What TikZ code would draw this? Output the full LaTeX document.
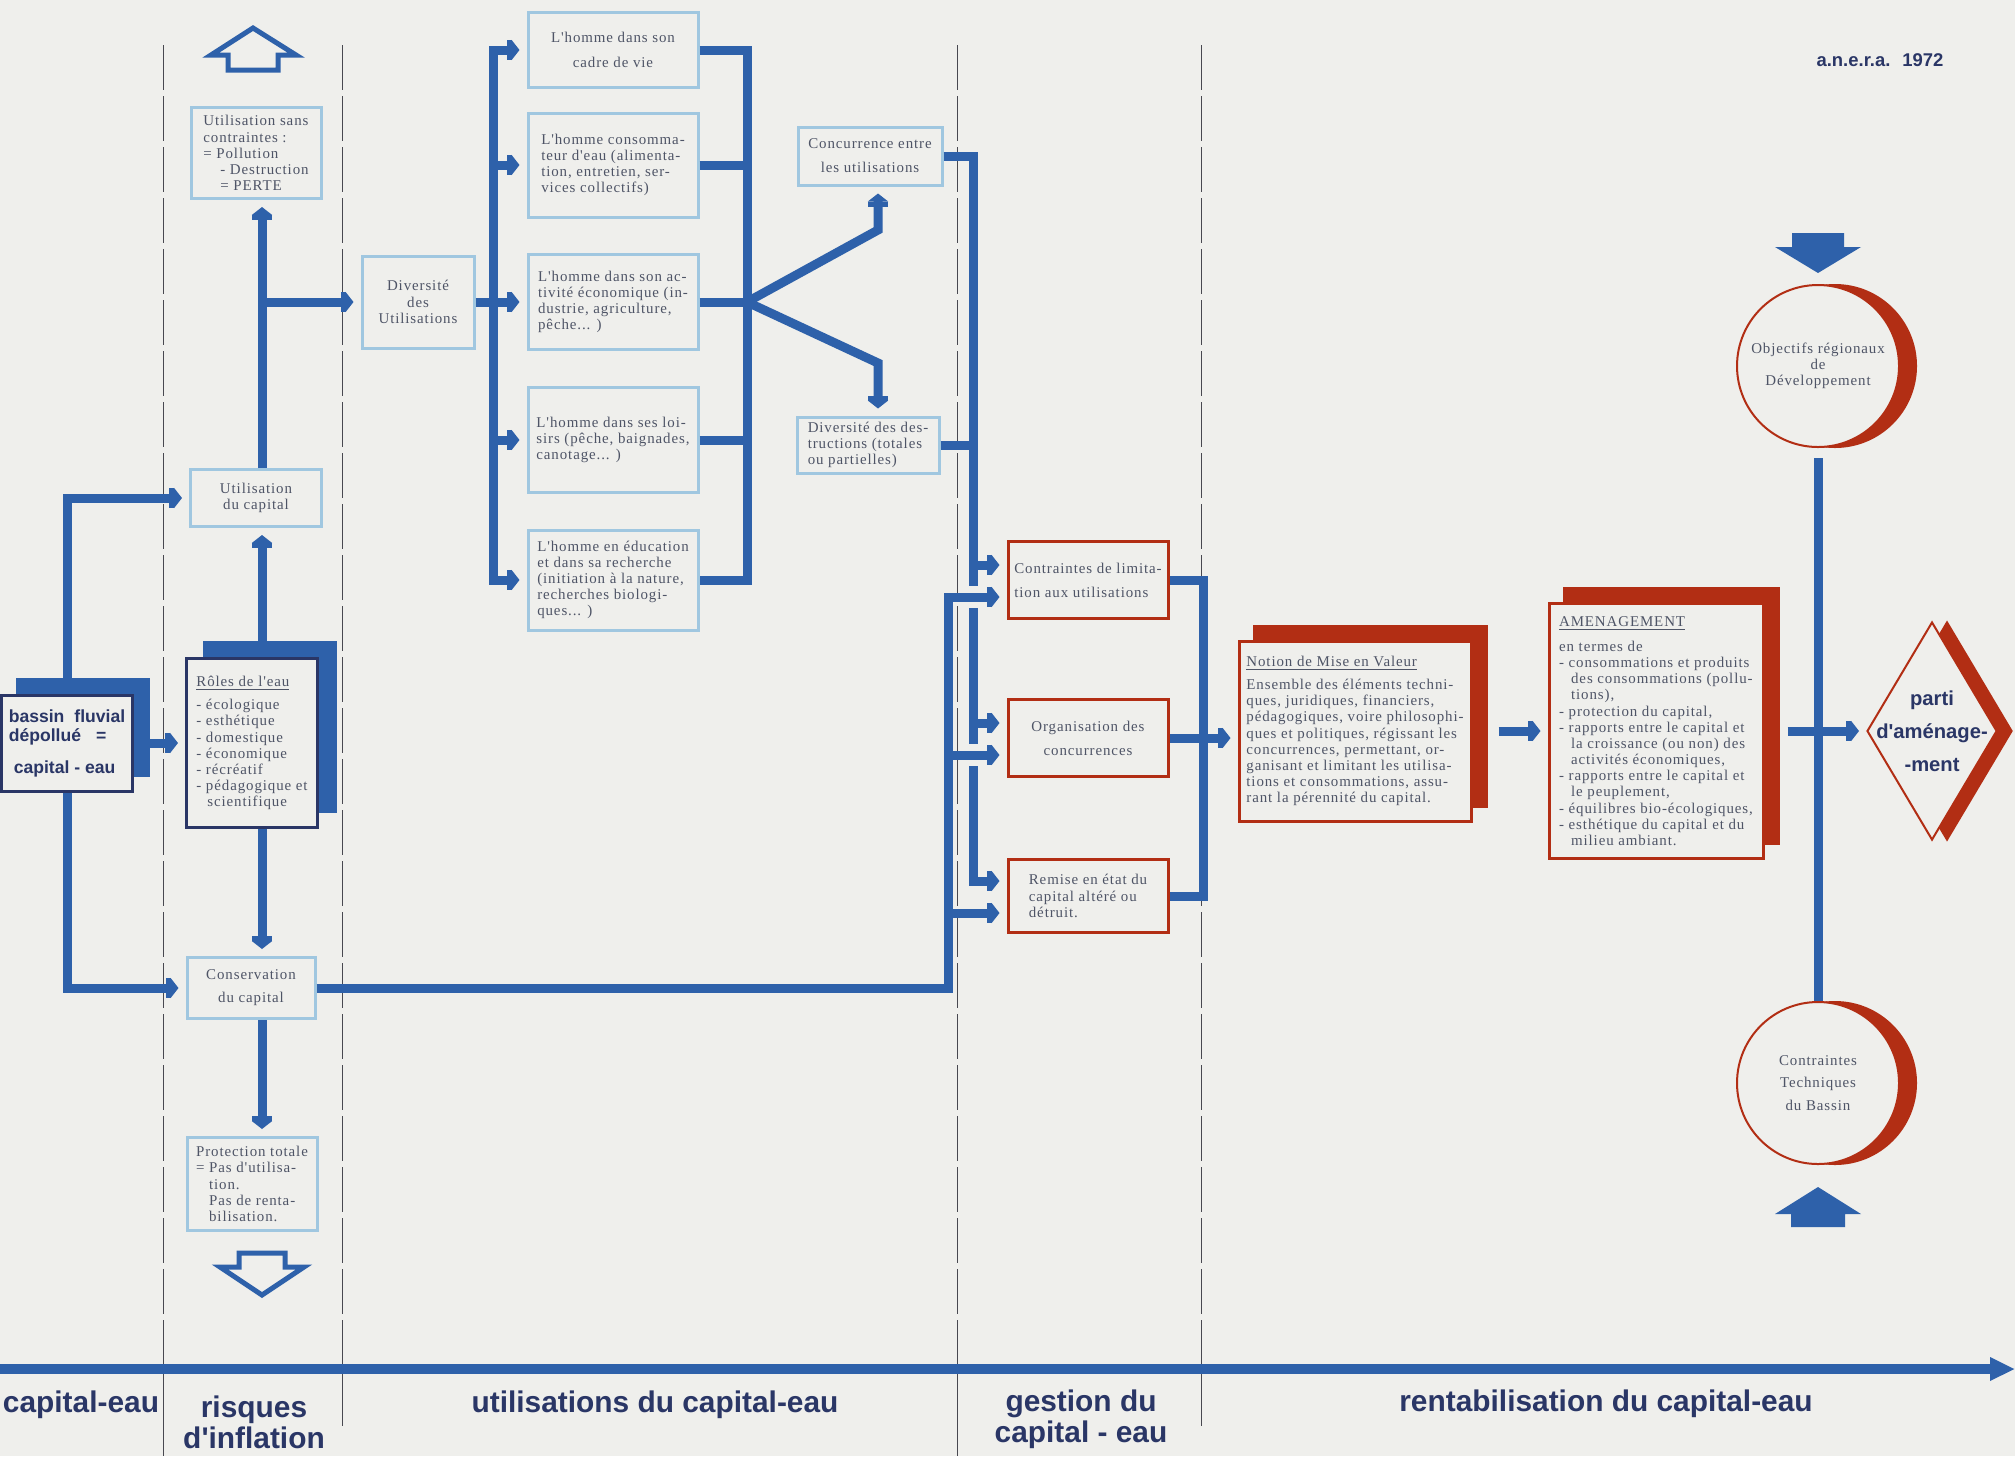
\documentclass[tikz,border=0pt]{standalone}
\usepackage{fontspec}
\setmainfont{Liberation Serif}
\newfontfamily\boxfont[LetterSpace=6]{Liberation Serif}
\newfontfamily\labfont{Liberation Sans}
\usepackage{tikz}
\usetikzlibrary{arrows.meta,positioning,shapes.geometric,shadows}

\definecolor{bgC}{RGB}{239,239,236}
\definecolor{blueC}{RGB}{46,97,170}
\definecolor{navyC}{RGB}{42,54,102}
\definecolor{paleC}{RGB}{160,199,224}
\definecolor{redC}{RGB}{178,46,20}
\definecolor{textC}{RGB}{78,84,102}
\definecolor{rulC}{RGB}{72,72,80}

\begin{document}
\begin{tikzpicture}[x=0.2mm, y=-0.2mm,
  txt/.style={font=\boxfont\fontsize{8.5}{9.2}\selectfont, text=textC},
  blk/.style={txt, draw=#1, line width=0.6mm, fill=bgC, inner sep=0.8mm, align=left},
  blk/.default=paleC,
  bshad/.style={copy shadow={shadow xshift=#1, shadow yshift=3.2mm, fill=blueC, draw=blueC}},
  bshad/.default=3.2mm,
  rshad/.style={copy shadow={shadow xshift=3mm, shadow yshift=3mm, fill=redC, draw=redC}},
  cshad/.style={copy shadow={shadow xshift=3.4mm, shadow yshift=0mm, fill=redC, draw=redC}},
  circ/.style={txt, circle, draw=redC, line width=0.4mm, fill=bgC, minimum size=32.4mm, inner sep=0pt, align=center, cshad},
  dia/.style={diamond, draw=redC, line width=0.4mm, fill=bgC, minimum width=26mm, minimum height=43.6mm, inner sep=0pt,
    copy shadow={shadow xshift=3mm, shadow yshift=0mm, fill=redC, draw=redC}},
  lab/.style={font=\labfont\bfseries\fontsize{17}{17.6}\selectfont, text=navyC, align=center, inner sep=0pt},
  conn/.style={draw=blueC, line width=1.8mm, line join=miter},
  arr/.style={-{Rectangle[length=1mm,width=4mm]Triangle[length=1.6mm,width=4mm]}, shorten >=1.4mm},
  hollow/.style={draw=blueC, line width=1mm, line join=miter},
  colline/.style={draw=rulC, line width=0.5pt, dash pattern=on 9mm off 1.2mm}]

% page
\fill[bgC] (0,0) rectangle (2015,1456);
\useasboundingbox (0,0) rectangle (2015,1456);
\foreach \x in {163,342,957,1201} \draw[colline] (\x,45) -- (\x,1369);
\draw[rulC, line width=0.5pt] (163,1369) -- (163,1456) (342,1369) -- (342,1426)
  (957,1369) -- (957,1456) (1201,1369) -- (1201,1426);
\draw[draw=blueC, line width=2mm, -{Triangle[length=5mm,width=4.4mm]}] (0,1369) -- (2015,1369);

% capital-eau / risques
\node[draw=navyC, line width=0.6mm, fill=bgC, bshad, inner sep=0.8mm, align=left, minimum width=26mm, minimum height=19.2mm,
  font=\labfont\bfseries\fontsize{10}{10.8}\selectfont, text=navyC] (bassin) at (67,743)
  {bassin\hspace{2mm}fluvial\\dépollué\hspace{3mm}=\\[2.6mm]\hspace*{1mm}capital - eau};
\node[blk, minimum width=26mm, minimum height=18.2mm] (sans) at (256,153)
  {Utilisation sans\\contraintes :\\= Pollution\\\hspace*{3.4mm}- Destruction\\\hspace*{3.4mm}= PERTE};
\node[blk, align=center, minimum width=26.2mm, minimum height=11.4mm] (util) at (256,498) {Utilisation\\du capital};
\node[blk=navyC, bshad=3.6mm, minimum width=26.2mm, minimum height=33.8mm] (roles) at (252,743)
  {\underline{Rôles de l'eau}\\[1.4mm]- écologique\\- esthétique\\- domestique\\- économique\\- récréatif\\- pédagogique et\\\hspace*{2.2mm}scientifique};
\node[blk, align=center, minimum width=25.6mm, minimum height=12.2mm] (cons) at (251,988) {Conservation\\[1.4mm]du capital};
\node[blk, minimum width=26mm, minimum height=18.6mm] (prot) at (252,1184)
  {Protection totale\\= Pas d'utilisa-\\\hspace*{2.6mm}tion.\\\hspace*{2.6mm}Pas de renta-\\\hspace*{2.6mm}bilisation.};

% utilisations
\node[blk, align=center, minimum width=22.4mm, minimum height=18.4mm] (dive) at (418,302) {Diversité\\des\\Utilisations};
\node[blk, align=center, minimum width=34mm, minimum height=15mm] (h1) at (613,50) {L'homme dans son\\[1.8mm]cadre de vie};
\node[blk, minimum width=34mm, minimum height=20.8mm] (h2) at (613,165)
  {L'homme consomma-\\teur d'eau (alimenta-\\tion, entretien, ser-\\vices collectifs)};
\node[blk, minimum width=34mm, minimum height=19mm] (h3) at (613,302)
  {L'homme dans son ac-\\tivité économique (in-\\dustrie, agriculture,\\pêche... )};
\node[blk, minimum width=34mm, minimum height=21mm] (h4) at (613,440)
  {L'homme dans ses loi-\\sirs (pêche, baignades,\\canotage... )};
\node[blk, minimum width=34mm, minimum height=20mm] (h5) at (613,580)
  {L'homme en éducation\\et dans sa recherche\\(initiation à la nature,\\recherches biologi-\\ques... )};
\node[blk, align=center, minimum width=28.8mm, minimum height=11.6mm] (conc) at (870,156) {Concurrence entre\\[1.6mm]les utilisations};
\node[blk, minimum width=28.4mm, minimum height=11.2mm] (dest) at (868,445) {Diversité des des-\\tructions (totales\\ou partielles)};

% gestion
\node[blk=redC, minimum width=32mm, minimum height=15.4mm] (contr) at (1088,580) {Contraintes de limita-\\[1.6mm]tion aux utilisations};
\node[blk=redC, align=center, minimum width=32mm, minimum height=15.4mm] (orga) at (1088,738) {Organisation des\\[1.6mm]concurrences};
\node[blk=redC, minimum width=32mm, minimum height=14.6mm] (remise) at (1088,896) {Remise en état du\\capital altéré ou\\détruit.};

% rentabilisation
\node[blk=redC, rshad, minimum width=46.4mm, minimum height=36mm] (notion) at (1355,731)
  {\underline{Notion de Mise en Valeur}\\[1.4mm]Ensemble des éléments techni-\\ques, juridiques, financiers,\\pédagogiques, voire philosophi-\\ques et politiques, régissant les\\concurrences, permettant, or-\\ganisant et limitant les utilisa-\\tions et consommations, assu-\\rant la pérennité du capital.};
\node[blk=redC, rshad, minimum width=42.8mm, minimum height=51mm] (amen) at (1656,731)
  {\underline{AMENAGEMENT}\\[1.8mm]en termes de\\- consommations et produits\\\hspace*{2.4mm}des consommations (pollu-\\\hspace*{2.4mm}tions),\\- protection du capital,\\- rapports entre le capital et\\\hspace*{2.4mm}la croissance (ou non) des\\\hspace*{2.4mm}activités économiques,\\- rapports entre le capital et\\\hspace*{2.4mm}le peuplement,\\- équilibres bio-écologiques,\\- esthétique du capital et du\\\hspace*{2.4mm}milieu ambiant.};
\node[circ] (obj) at (1818,366) {Objectifs régionaux\\de\\Développement};
\node[circ] (tech) at (1818,1083) {Contraintes\\[1.2mm]Techniques\\[1.2mm]du Bassin};
\node[dia] (parti) at (1932,731) {};
\node[font=\labfont\bfseries\fontsize{11.5}{18.8}\selectfont, text=navyC, align=center, inner sep=0pt] (partitxt) at (parti) {parti\\d'aménage-\\-ment};
\node[font=\labfont\bfseries\fontsize{10.5}{11}\selectfont, text=navyC] (anera) at (1880,60) {a.n.e.r.a.\hspace{2.4mm}1972};

% bus lines
\coordinate (colx) at (262,0);
\coordinate (busL) at (493,0);
\coordinate (busR) at (747,0);
\coordinate (vup) at (878,230);
\coordinate (vdn) at (878,363);
\coordinate (busA) at (973,0);
\coordinate (busB) at (948,0);
\coordinate (busO) at (1203,0);
\foreach \g in {contr,orga,remise}{
  \coordinate (\g-a) at ([yshift=3mm]\g.west);
  \coordinate (\g-b) at ([yshift=-3.4mm]\g.west);
}
\coordinate (xa1) at (busA |- contr-b);
\coordinate (xa2) at (busA |- orga-b);

% left column
\draw[conn,arr] (bassin.north) |- (util.west);
\draw[conn,arr] (bassin.south) |- (cons.west);
\draw[conn,arr] ([xshift=3.2mm]bassin.east) -- (roles.west);
\draw[conn,arr] (roles.north -| colx) -- (util.south -| colx);
\draw[conn,arr] (util.north -| colx) -- (sans.south -| colx);
\draw[conn,arr] (colx |- dive.west) -- (dive.west);
\draw[conn,arr] (roles.south -| colx) -- (cons.north -| colx);
\draw[conn,arr] (cons.south -| colx) -- (prot.north -| colx);

% uses
\draw[conn,arr] (dive.east) -- (h3.west);
\draw[conn,arr] (busL |- h3.west) |- (h1.west);
\draw[conn,arr] (busL |- h3.west) |- (h5.west);
\draw[conn,arr] (busL |- h2.west) -- (h2.west);
\draw[conn,arr] (busL |- h4.west) -- (h4.west);
\draw[conn] (h1.east) -| (busR |- h3.east) |- (h5.east);
\foreach \h in {h2,h3,h4} \draw[conn] (\h.east) -- (busR |- \h.east);
\draw[conn,arr] (busR |- h3.east) -- (vup) -- (vup |- conc.south);
\draw[conn,arr] (busR |- h3.east) -- (vdn) -- (vdn |- dest.north);

% management
\draw[conn] (conc.east) -| ([yshift=2.2mm]xa1);
\draw[conn] ([yshift=-2.2mm]xa1) -- ([yshift=2.2mm]xa2);
\draw[conn,arr] ([yshift=-2.2mm]xa2) |- (remise-a);
\draw[conn,arr] (busA |- contr-a) -- (contr-a);
\draw[conn,arr] (busA |- orga-a) -- (orga-a);
\draw[conn] (dest.east) -- (busA |- dest.east);
\draw[conn,arr] (cons.east) -| (busB |- contr-b) -- (contr-b);
\draw[conn,arr] (busB |- orga-b) -- (orga-b);
\draw[conn,arr] (busB |- remise-b) -- (remise-b);
\draw[conn] (contr.east) -| (busO |- remise.east) -- (remise.east);
\draw[conn,arr] (orga.east) -- (orga.east -| notion.west);

% profitability
\draw[conn,arr] ([xshift=5.2mm]notion.east) -- (amen.west);
\draw[conn] ([yshift=-2mm]obj.south) -- (tech.north);
\draw[conn,arr] ([xshift=4.6mm]amen.east) -- (parti.west);

% outline and solid arrows
\draw[hollow] (253,28) -- (296,55) -- (278,55) -- (278,70) -- (228,70) -- (228,55) -- (211,55) -- cycle;
\draw[hollow] (239,1253) -- (285,1253) -- (285,1267) -- (304,1267) -- (262,1295) -- (220,1267) -- (239,1267) -- cycle;
\fill[blueC] (1792,233) -- (1844,233) -- (1844,247) -- (1861,247) -- (1818,273) -- (1775,247) -- (1792,247) -- cycle;
\fill[blueC] (1791,1227) -- (1845,1227) -- (1845,1214) -- (1861,1214) -- (1818,1187) -- (1775,1214) -- (1791,1214) -- cycle;

% axis labels
\node[lab] (capl) at (81,1405) {capital-eau};
\node[lab] (risl) at (254,1422) {risques\\d'inflation};
\node[lab] (utill) at (655,1405) {utilisations du capital-eau};
\node[lab] (gesl) at (1081,1419) {gestion du\\capital - eau};
\node[lab] (rentl) at (1606,1404) {rentabilisation du capital-eau};
\end{tikzpicture}
\end{document}
